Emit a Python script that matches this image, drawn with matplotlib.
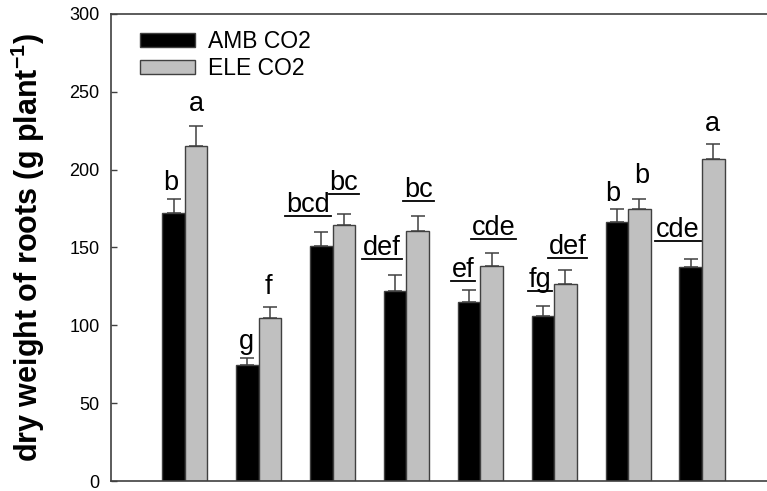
import numpy as np
import matplotlib
matplotlib.use("Agg")
import matplotlib.pyplot as plt
from matplotlib.lines import Line2D

plt.rcParams['font.family'] = ['Liberation Sans', 'DejaVu Sans']
plt.rcParams['mathtext.fontset'] = 'custom'
plt.rcParams['mathtext.rm'] = 'Liberation Sans'
plt.rcParams['mathtext.bf'] = 'Liberation Sans:bold'

# data
amb = [172.4, 74.5, 151.2, 122.0, 114.8, 106.0, 166.4, 137.3]
amb_err = [8.6, 4.7, 8.8, 10.3, 8.1, 6.4, 8.1, 5.3]
ele = [215.4, 104.9, 164.7, 160.8, 138.1, 126.4, 174.7, 206.6]
ele_err = [12.8, 7.0, 6.6, 9.6, 8.2, 9.0, 6.3, 9.7]

amb_letters = ['b', 'g', 'bcd', 'def', 'ef', 'fg', 'b', 'cde']
ele_letters = ['a', 'f', 'bc', 'bc', 'cde', 'def', 'b', 'a']
amb_under = [False, False, True, True, True, True, False, True]
ele_under = [False, False, True, True, True, True, False, False]

# label placement (pixel offsets from top of error bar)
amb_dx = [-3, -1, -13, -13, -6, -3, -4, -13]
amb_dy = [9, 9, 20, 20, 13, 19, 8, 22]
ele_dx = [0, -2, 0, 1, 2, 2, 2, -1]
ele_dy = [15, 13, 24, 19, 18, 16, 16, 13]

x = np.arange(len(amb))
w = 0.305
edge = '#404040'

fig = plt.figure(figsize=(7.67, 4.91), dpi=100)
ax = fig.add_axes([110.6 / 767, 10 / 491, 656.4 / 767, 467 / 491])

ax.bar(x - w / 2, amb, w, color='black', edgecolor=edge, linewidth=1, label='AMB CO2', zorder=2)
ax.bar(x + w / 2, ele, w, color='#c0c0c0', edgecolor=edge, linewidth=1, label='ELE CO2', zorder=2)
ax.errorbar(x - w / 2, amb, yerr=[np.zeros(len(amb)), amb_err], fmt='none', ecolor=edge,
            elinewidth=1.1, capsize=5, capthick=1.1, zorder=1)
ax.errorbar(x + w / 2, ele, yerr=[np.zeros(len(ele)), ele_err], fmt='none', ecolor=edge,
            elinewidth=1.1, capsize=5, capthick=1.1, zorder=1)

texts = []
for i in range(len(x)):
    for xc, v, e, lab, dx, dy, ul in [
        (x[i] - w / 2, amb[i], amb_err[i], amb_letters[i], amb_dx[i], amb_dy[i], amb_under[i]),
        (x[i] + w / 2, ele[i], ele_err[i], ele_letters[i], ele_dx[i], ele_dy[i], ele_under[i])]:
        t = ax.annotate(lab, xy=(xc, v + e), xytext=(dx, dy), textcoords='offset pixels',
                        ha='center', va='baseline', fontsize=19.5)
        if ul:
            texts.append((t, xc, v + e, dy))

ax.set_xlim(-1.005, 7.88)
ax.set_ylim(0, 300)
ax.set_yticks(np.arange(0, 301, 50))
ax.set_xticks([])
ax.tick_params(axis='y', direction='in', length=4.5, width=1, color=edge, pad=8, labelsize=13)
for s in ['left', 'top', 'bottom']:
    ax.spines[s].set_color(edge)
    ax.spines[s].set_linewidth(1.2)
ax.spines['right'].set_visible(False)

ax.set_ylabel(r'dry weight of roots (g plant$^{\mathbf{-1}}$)', fontsize=22, fontweight='bold')
ax.yaxis.set_label_coords((47 - 110.6) / 656.4, 0.5)

ax.legend(loc='upper left', bbox_to_anchor=(0.045, 0.966), frameon=False, fontsize=16.5,
          borderpad=0, borderaxespad=0, handlelength=2.4, handleheight=0.55,
          handletextpad=0.57, labelspacing=0.2)

# underlines below selected letters
fig.canvas.draw()
r = fig.canvas.get_renderer()
inv = fig.transFigure.inverted()
for t, xc, top, dy in texts:
    bb = t.get_window_extent(r)
    yb = ax.transData.transform((xc, top))[1] + dy - 4
    p0 = inv.transform((bb.x0 - 1, yb))
    p1 = inv.transform((bb.x1 + 1, yb))
    fig.add_artist(Line2D([p0[0], p1[0]], [p0[1], p1[1]], color='black', linewidth=1.3))

fig.savefig('out.png', dpi=100)
